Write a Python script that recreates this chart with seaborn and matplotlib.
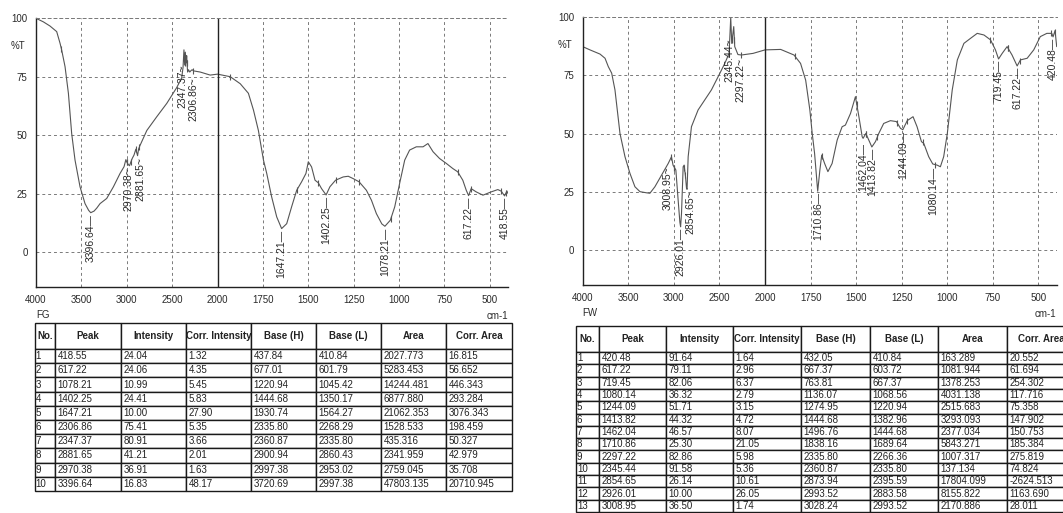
import numpy as np
import matplotlib
matplotlib.use("Agg")
import matplotlib.pyplot as plt
import seaborn as sns
from matplotlib.ticker import FixedLocator
import matplotlib.transforms as mtransforms

# ---- FG spectrum (cm-1 , %T)
fg_wn = [4000, 3920, 3846, 3772, 3735, 3717, 3680, 3643, 3607, 3570, 3515, 3460,
         3420, 3397, 3360, 3330, 3294, 3221, 3147, 3074, 3030, 3010, 3000, 2985,
         2970, 2955, 2940, 2920, 2900, 2890, 2881, 2870, 2855, 2779, 2669, 2559,
         2449, 2395, 2380, 2370, 2362, 2355, 2347, 2340, 2330, 2320, 2306, 2295,
         2280, 2265, 2191, 2081, 2000, 1930, 1875, 1830, 1802, 1775, 1747, 1729,
         1702, 1674, 1647, 1619, 1592, 1564, 1537, 1513, 1500, 1482, 1463, 1445,
         1427, 1402, 1381, 1350, 1308, 1280, 1253, 1220, 1180, 1152, 1125, 1095,
         1078, 1048, 1024, 997, 969, 942, 905, 868, 841, 813, 777, 740, 704, 677,
         649, 630, 617, 603, 575, 538, 493, 456, 437, 419, 406, 400]
fg_t = [100.0, 98.5, 96.7, 94.3, 89.3, 86.4, 79.3, 67.9, 50.7, 39.3, 27.9, 20.7,
        17.8, 16.8, 17.5, 18.8, 20.7, 22.9, 27.9, 33.6, 36.5, 39.5, 38.5, 37.5,
        36.9, 38.5, 40.0, 41.5, 44.0, 42.5, 41.2, 44.0, 45.5, 52.0, 57.9, 63.6,
        70.4, 74.5, 79.0, 86.5, 80.0, 85.5, 80.9, 84.0, 77.0, 78.0, 77.0, 77.5,
        78.0, 77.5, 77.0, 75.7, 76.1, 75.0, 72.0, 67.9, 60.7, 52.0, 39.3, 33.6,
        23.6, 15.0, 10.0, 12.1, 19.3, 26.4, 30.0, 33.6, 38.6, 36.4, 30.7, 29.6,
        27.1, 24.4, 27.9, 30.7, 32.1, 32.4, 31.4, 30.0, 26.4, 22.1, 16.4, 12.0,
        11.0, 13.6, 19.3, 29.3, 39.3, 43.6, 45.0, 45.0, 46.4, 42.9, 40.0, 37.9,
        35.7, 34.3, 30.7, 26.4, 24.1, 27.1, 25.7, 24.3, 25.7, 26.7, 26.0, 24.0,
        26.1, 25.0]

# ---- FW spectrum
fw_wn = [4000, 3920, 3810, 3755, 3719, 3682, 3646, 3591, 3536, 3482, 3427, 3372,
         3299, 3263, 3208, 3135, 3062, 3026, 3009, 2978, 2953, 2934, 2926, 2916,
         2898, 2887, 2872, 2861, 2855, 2843, 2807, 2734, 2661, 2588, 2496, 2441,
         2394, 2376, 2365, 2343, 2332, 2297, 2259, 2131, 2000, 1914, 1841, 1805,
         1777, 1754, 1741, 1728, 1711, 1699, 1689, 1673, 1655, 1632, 1604, 1577,
         1559, 1531, 1504, 1485, 1467, 1462, 1447, 1431, 1414, 1394, 1376, 1349,
         1312, 1279, 1257, 1244, 1220, 1188, 1166, 1142, 1129, 1102, 1080, 1056,
         1038, 1020, 1000, 973, 945, 909, 872, 836, 799, 763, 736, 719, 699, 672,
         645, 617, 599, 562, 526, 490, 454, 427, 420, 409, 400]
fw_t = [87.4, 86.0, 84.2, 82.4, 78.8, 76.0, 68.8, 50.1, 40.1, 33.0, 27.2, 25.1,
        24.6, 24.4, 27.2, 32.2, 37.2, 40.1, 36.5, 34.4, 21.5, 12.0, 10.0, 15.8,
        35.8, 36.5, 31.5, 26.5, 26.1, 40.1, 53.0, 60.2, 64.5, 68.8, 75.9, 80.2,
        84.5, 100.0, 88.8, 96.0, 87.4, 84.0, 83.8, 84.5, 86.0, 86.2, 83.8, 80.2,
        73.0, 60.2, 50.1, 41.5, 25.3, 34.4, 40.8, 37.2, 33.7, 37.2, 47.3, 53.0,
        53.7, 58.7, 65.9, 57.3, 48.7, 48.0, 50.1, 47.3, 44.3, 46.6, 50.1, 54.4,
        55.6, 55.2, 52.3, 51.7, 55.6, 57.3, 53.0, 46.6, 45.8, 40.1, 37.0, 36.5,
        35.8, 40.1, 50.1, 68.8, 81.7, 88.8, 91.0, 93.1, 92.4, 90.3, 86.0, 82.1,
        84.5, 87.4, 83.8, 79.1, 81.7, 82.4, 86.0, 91.7, 93.1, 93.1, 91.6, 94.3,
        87.4]

# ---- peak tables
headers = ["No.", "Peak", "Intensity", "Corr. Intensity", "Base (H)", "Base (L)", "Area", "Corr. Area"]

fg_peak = [418.55, 617.22, 1078.21, 1402.25, 1647.21, 2306.86, 2347.37, 2881.65, 2970.38, 3396.64]
fg_int = [24.04, 24.06, 10.99, 24.41, 10.00, 75.41, 80.91, 41.21, 36.91, 16.83]
fg_cint = [1.32, 4.35, 5.45, 5.83, 27.90, 5.35, 3.66, 2.01, 1.63, 48.17]
fg_baseh = [437.84, 677.01, 1220.94, 1444.68, 1930.74, 2335.80, 2360.87, 2900.94, 2997.38, 3720.69]
fg_basel = [410.84, 601.79, 1045.42, 1350.17, 1564.27, 2268.29, 2335.80, 2860.43, 2953.02, 2997.38]
fg_area = [2027.773, 5283.453, 14244.481, 6877.880, 21062.353, 1528.533, 435.316, 2341.959, 2759.045, 47803.135]
fg_carea = [16.815, 56.652, 446.343, 293.284, 3076.343, 198.459, 50.327, 42.979, 35.708, 20710.945]

fw_peak = [420.48, 617.22, 719.45, 1080.14, 1244.09, 1413.82, 1462.04, 1710.86, 2297.22, 2345.44, 2854.65, 2926.01, 3008.95]
fw_int = [91.64, 79.11, 82.06, 36.32, 51.71, 44.32, 46.57, 25.30, 82.86, 91.58, 26.14, 10.00, 36.50]
fw_cint = [1.64, 2.96, 6.37, 2.79, 3.15, 4.72, 8.07, 21.05, 5.98, 5.36, 10.61, 26.05, 1.74]
fw_baseh = [432.05, 667.37, 763.81, 1136.07, 1274.95, 1444.68, 1496.76, 1838.16, 2335.80, 2360.87, 2873.94, 2993.52, 3028.24]
fw_basel = [410.84, 603.72, 667.37, 1068.56, 1220.94, 1382.96, 1444.68, 1689.64, 2266.36, 2335.80, 2395.59, 2883.58, 2993.52]
fw_area = [163.289, 1081.944, 1378.253, 4031.138, 2515.683, 3293.093, 2377.034, 5843.271, 1007.317, 137.134, 17804.099, 8155.822, 2170.886]
fw_carea = [20.552, 61.694, 254.302, 117.716, 75.358, 147.902, 150.753, 185.384, 275.819, 74.824, -2624.513, 1163.690, 28.011]

# label nudges (cm-1) for crowded peak labels
fg_shift = {2970.38: 12, 2881.65: -30, 2347.37: 35, 2306.86: -45}
fw_shift = {3008.95: 60, 2854.65: -35, 2345.44: 40, 2297.22: -30}

sns.set_style("white")
plt.rcParams["font.family"] = ["Liberation Sans", "DejaVu Sans"]
LINE = "#555555"
TXT = "#2a2a2a"


def fwd(x):
    x = np.asarray(x, dtype=float)
    return np.where(x > 2000, 2000 + (x - 2000) / 2, x)


def inv(u):
    u = np.asarray(u, dtype=float)
    return np.where(u > 2000, 2000 + (u - 2000) * 2, u)


def spectrum(ax, wn, t, peaks, inten, baseh, basel, shift, name):
    sns.lineplot(x=wn, y=t, ax=ax, color=LINE, lw=0.8, sort=False, estimator=None)
    ax.set_xscale("function", functions=(fwd, inv))
    ax.set_xlim(4000, 400)
    ax.set_ylim(-15, 100)
    ax.xaxis.set_major_locator(FixedLocator([4000, 3500, 3000, 2500, 2000, 1750, 1500, 1250, 1000, 750, 500]))
    minors = list(range(3900, 2000, -100)) + list(range(1950, 400, -50))
    ax.xaxis.set_minor_locator(FixedLocator(minors))
    ax.yaxis.set_major_locator(FixedLocator([0, 25, 50, 75, 100]))
    ax.yaxis.set_minor_locator(FixedLocator(list(range(-15, 100, 5))))
    ax.tick_params(which="both", direction="out", colors="#222", labelsize=7, pad=1, width=0.8)
    ax.tick_params(which="major", length=5)
    ax.tick_params(which="minor", length=4)
    ax.tick_params(axis="x", labelcolor=TXT)
    ax.tick_params(axis="y", labelcolor=TXT)
    ax.grid(True, which="major", color="#7a7a7a", lw=0.7, ls=(0, (3, 3)))
    ax.axvline(2000, color="#222", lw=1.0)
    for s in ["left", "bottom"]:
        ax.spines[s].set_color("#222")
        ax.spines[s].set_linewidth(1.0)
    ax.spines["right"].set_visible(False)
    ax.spines["top"].set_color("#7a7a7a")
    ax.spines["top"].set_linestyle((0, (3, 3)))
    ax.spines["top"].set_linewidth(0.7)
    ax.set_xlabel("")
    ax.set_ylabel("")

    # base markers on the trace
    order = np.argsort(wn)
    xs = np.array(wn)[order]
    ys = np.array(t)[order]
    bases = np.array(baseh + basel)
    ax.plot(bases, np.interp(bases, xs, ys), ls="none", marker="|", ms=4, mew=0.8, color=LINE)

    for p, v in zip(peaks, inten):
        dx = shift.get(p, 0)
        lead = "~" if dx else "\u2014"
        ax.text(p + dx, v - 0.5, f"{p:.2f}{lead}", rotation=90, ha="center", va="top",
                fontsize=7.5, color=TXT)

    tr = mtransforms.blended_transform_factory(ax.transAxes, ax.transData)
    ax.text(-0.023, 88, "%T", transform=tr, ha="right", va="center", fontsize=7, color=TXT)
    ax.text(0.0, -0.085, name, transform=ax.transAxes, ha="left", va="top", fontsize=7, color=TXT)
    ax.text(1.0, -0.09, "cm-1", transform=ax.transAxes, ha="right", va="top", fontsize=7, color=TXT)


def peak_table(ax, cols, widths, row_h):
    ax.axis("off")
    n = len(cols[0])
    rows = []
    for i in range(n):
        rows.append([str(i + 1), f"{cols[0][i]:.2f}", f"{cols[1][i]:.2f}", f"{cols[2][i]:.2f}",
                     f"{cols[3][i]:.2f}", f"{cols[4][i]:.2f}", f"{cols[5][i]:.3f}", f"{cols[6][i]:.3f}"])
    tot = sum(widths)
    tb = ax.table(cellText=rows, colLabels=headers, colWidths=[w / tot for w in widths],
                  cellLoc="left", colLoc="center", bbox=[0, 0, 1, 1])
    tb.auto_set_font_size(False)
    tb.set_fontsize(7)
    for (r, c), cell in tb.get_celld().items():
        cell.set_edgecolor("#1a1a1a")
        cell.set_linewidth(1.0)
        cell.PAD = 0.04
        cell.get_text().set_color("#222")
        if r == 0:
            cell.set_height(row_h[0])
            cell.get_text().set_fontweight("bold")
        else:
            cell.set_height(row_h[1])
    return tb


fig = plt.figure(figsize=(10.63, 5.13), dpi=100)
W, H = 1063, 513

ax1 = fig.add_axes([36 / W, 1 - 287 / H, 472 / W, 268.7 / H])
spectrum(ax1, fg_wn, fg_t, fg_peak, fg_int, fg_baseh, fg_basel, fg_shift, "FG")

ax2 = fig.add_axes([582.7 / W, 1 - 285 / H, 474 / W, 267.7 / H])
spectrum(ax2, fw_wn, fw_t, fw_peak, fw_int, fw_baseh, fw_basel, fw_shift, "FW")

t1 = fig.add_axes([35 / W, 1 - 491 / H, 477 / W, 168 / H])
peak_table(t1, [fg_peak, fg_int, fg_cint, fg_baseh, fg_basel, fg_area, fg_carea],
           [20, 66, 65, 65, 65, 65, 65, 66], (26, 14.2))

t2 = fig.add_axes([576 / W, 1 - 512 / H, 499 / W, 186 / H])
peak_table(t2, [fw_peak, fw_int, fw_cint, fw_baseh, fw_basel, fw_area, fw_carea],
           [23, 67, 67, 68, 69, 68, 69, 68], (26, 12.3))

fig.savefig("out.png", dpi=100)
